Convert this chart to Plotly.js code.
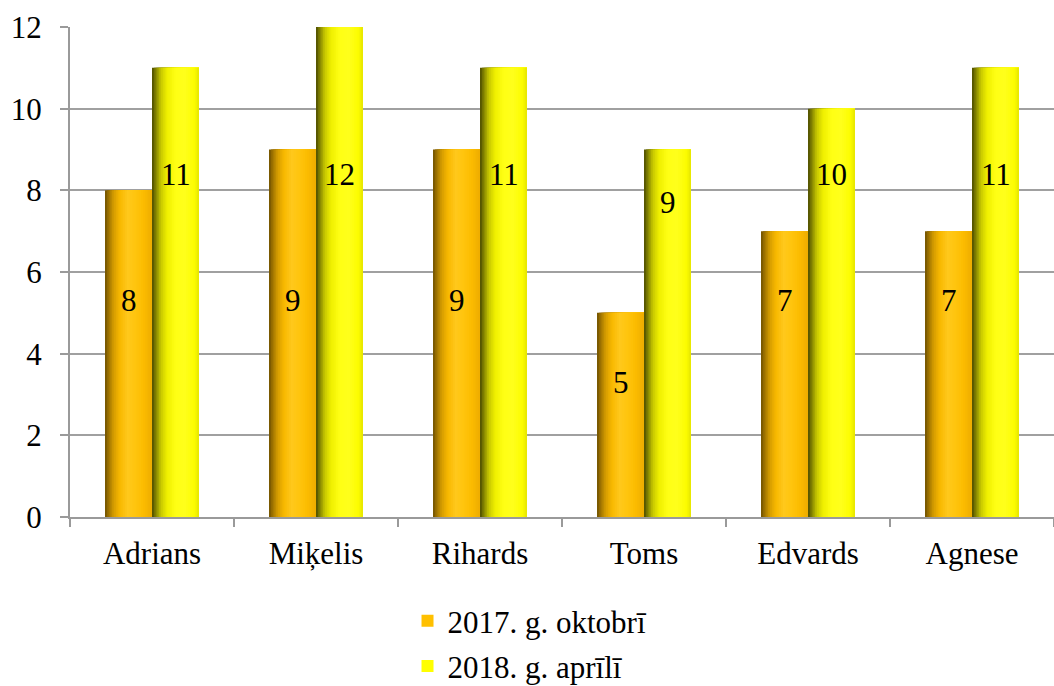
<!DOCTYPE html>
<html>
<head>
<meta charset="utf-8">
<script src="https://cdn.plot.ly/plotly-3.0.1.min.js"></script>
<style>html,body{margin:0;padding:0;background:#fff;}#chart{width:1054px;height:686px;}</style>
</head>
<body>
<div id="chart"></div>
<script>
const categories = ["Adrians", "Miķelis", "Rihards", "Toms", "Edvards", "Agnese"];
const seriesNames = ["2017. g. oktobrī", "2018. g. aprīlī"];
const values2017 = [8, 9, 9, 5, 7, 7];
const values2018 = [11, 12, 11, 9, 10, 11];
const yTicks = [0, 2, 4, 6, 8, 10, 12];

const FONT = "Liberation Serif, Times New Roman, serif";
const BAR_W = 0.2866;      // bar width in category units
const SLICES = 26;

const gradOrange = [[0,"#6e5000"],[0.07,"#9a7000"],[0.18,"#d49c00"],[0.32,"#f8b800"],[0.48,"#ffc81c"],[0.62,"#ffc610"],[0.82,"#fcbc00"],[1,"#eeac00"]];
const gradYellow = [[0,"#4a4a00"],[0.07,"#7a7a00"],[0.18,"#c4c400"],[0.32,"#efef00"],[0.5,"#ffff14"],[0.7,"#ffff1c"],[0.9,"#fcfc00"],[1,"#e4e400"]];

function hex2rgb(h){return [parseInt(h.slice(1,3),16),parseInt(h.slice(3,5),16),parseInt(h.slice(5,7),16)];}
function gradAt(stops,t){
  for(let i=1;i<stops.length;i++){
    if(t<=stops[i][0]){
      const a=stops[i-1],b=stops[i];
      const f=(t-a[0])/(b[0]-a[0]);
      const ca=hex2rgb(a[1]),cb=hex2rgb(b[1]);
      const c=ca.map((v,j)=>Math.round(v+(cb[j]-v)*f));
      return "rgb("+c.join(",")+")";
    }
  }
  return stops[stops.length-1][1];
}

const traces = [];
function addSeries(vals, start, stops){
  const w = BAR_W/SLICES;
  for(let k=0;k<SLICES;k++){
    traces.push({
      type:"bar", x:categories, y:vals,
      offset: start + k*w, width: BAR_W - k*w,
      marker:{color: gradAt(stops,(k+0.5)/SLICES), line:{width:0}},
      showlegend:false, hoverinfo:"skip"
    });
  }
}
addSeries(values2017, -BAR_W, gradOrange);
addSeries(values2018, 0, gradYellow);

// legend-only traces
traces.push({type:"bar", x:categories, y:categories.map(()=>null), name:seriesNames[0], marker:{color:"#ffc000"}, legendgroup:"a", hoverinfo:"skip"});
traces.push({type:"bar", x:categories, y:categories.map(()=>null), name:seriesNames[1], marker:{color:"#ffff00"}, legendgroup:"b", hoverinfo:"skip"});

// value labels inside bars
const annotations = [];
categories.forEach((c,i)=>{
  annotations.push({x:c, y:Math.min(5.3, values2017[i]-1.7), xshift:-23.5, text:String(values2017[i]), showarrow:false, font:{family:FONT,size:31,color:"#000"}});
  annotations.push({x:c, y:Math.min(8.4, values2018[i]-1.3), xshift:23.5, text:String(values2018[i]), showarrow:false, font:{family:FONT,size:31,color:"#000"}});
});

const layout = {
  width:1054, height:686,
  margin:{l:70, r:0, t:27, b:169, pad:0, autoexpand:false},
  paper_bgcolor:"#fff", plot_bgcolor:"#fff",
  barmode:"overlay",
  font:{family:FONT, size:31, color:"#000"},
  xaxis:{
    type:"category", showgrid:false, showline:true, linecolor:"#9a9a9a", linewidth:2,
    ticks:"outside", tickson:"boundaries", ticklen:8, tickwidth:2, tickcolor:"#9a9a9a",
    ticklabelstandoff:8,
    tickfont:{family:FONT,size:31,color:"#000"}, zeroline:false, fixedrange:true, automargin:false
  },
  yaxis:{
    range:[0,12], tickvals:yTicks, ticktext:yTicks.map(String),
    showgrid:true, gridcolor:"#a0a0a0", gridwidth:2,
    showline:true, linecolor:"#9a9a9a", linewidth:2,
    ticks:"outside", ticklen:8, tickwidth:2, tickcolor:"#9a9a9a",
    ticklabelstandoff:12,
    tickfont:{family:FONT,size:31,color:"#000"}, zeroline:false, fixedrange:true, automargin:false
  },
  showlegend:true,
  legend:{
    orientation:"v", x:0.343, xanchor:"left", yref:"container", y:0.134, yanchor:"top",
    traceorder:"grouped", tracegroupgap:2,
    font:{family:FONT,size:31,color:"#000"}, bgcolor:"rgba(0,0,0,0)", itemwidth:30
  },
  annotations:annotations
};

Plotly.newPlot("chart", traces, layout, {displayModeBar:false, staticPlot:true});
</script>
</body>
</html>
